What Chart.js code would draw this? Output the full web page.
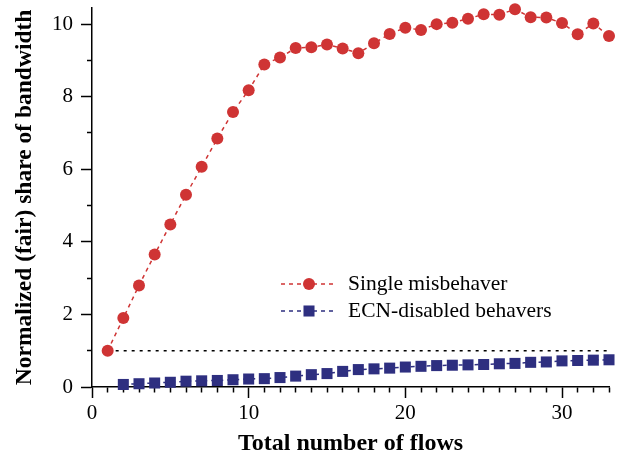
<!DOCTYPE html>
<html>
<head>
<meta charset="utf-8">
<script src="https://cdn.jsdelivr.net/npm/chart.js@4.4.1/dist/chart.umd.min.js"></script>
<style>
  html, body { margin: 0; padding: 0; background: #ffffff; }
  #wrap { width: 624px; height: 458px; }
</style>
</head>
<body>
<div id="wrap"><canvas id="share-chart"></canvas></div>
<script>
// values
const flows = [1, 2, 3, 4, 5, 6, 7, 8, 9, 10, 11, 12, 13, 14, 15, 16, 17,
  18, 19, 20, 21, 22, 23, 24, 25, 26, 27, 28, 29, 30, 31, 32, 33];
const misbehaver = [1.0, 1.9, 2.8, 3.65, 4.48, 5.3, 6.07, 6.85, 7.58, 8.18, 8.89,
  9.08, 9.34, 9.36, 9.44, 9.33, 9.2, 9.47, 9.73, 9.9, 9.84, 10.0, 10.04, 10.15,
  10.27, 10.26, 10.41, 10.19, 10.18, 10.03, 9.72, 10.02, 9.67];
const behaverFlows = flows.slice(1);
const behavers = [0.07, 0.09, 0.11, 0.13, 0.16, 0.17, 0.18, 0.2, 0.22, 0.23, 0.26,
  0.3, 0.34, 0.37, 0.43, 0.48, 0.5, 0.52, 0.55, 0.57, 0.59, 0.6, 0.61, 0.62, 0.64,
  0.65, 0.68, 0.69, 0.72, 0.73, 0.74, 0.75];
const fairFlows = [1, 33];
const fairShare = [1, 1];

const labelsMisbehaver = 'Single misbehaver';
const labelsBehavers = 'ECN-disabled behavers';

const RED = '#cf3434';
const BLUE = '#2e2f80';
const SERIF = '"Liberation Serif", "DejaVu Serif", serif';

Chart.defaults.font.family = SERIF;
Chart.defaults.color = '#000000';

function points(xs, ys) {
  return xs.map((x, i) => ({ x: x, y: ys[i] }));
}

// legend with line + marker sample, drawn like the original figure
const legendPlugin = {
  id: 'lineLegend',
  afterDraw(chart) {
    const ctx = chart.ctx;
    const entries = [0, 1];
    const rows = [284, 311];
    ctx.save();
    entries.forEach((idx, i) => {
      const ds = chart.data.datasets[idx];
      const y = rows[i];
      ctx.strokeStyle = ds.borderColor;
      ctx.lineWidth = ds.borderWidth;
      ctx.setLineDash(ds.borderDash);
      ctx.beginPath();
      ctx.moveTo(281, y);
      ctx.lineTo(336, y);
      ctx.stroke();
      ctx.setLineDash([]);
      ctx.fillStyle = ds.pointBackgroundColor;
      if (ds.pointStyle === 'rect') {
        const s = Math.SQRT1_2 * ds.pointRadius;
        ctx.fillRect(309 - s, y - s, 2 * s, 2 * s);
      } else {
        ctx.beginPath();
        ctx.arc(309, y, ds.pointRadius, 0, Math.PI * 2);
        ctx.fill();
      }
      ctx.fillStyle = '#000000';
      ctx.font = '21.5px ' + SERIF;
      ctx.textBaseline = 'middle';
      ctx.textAlign = 'left';
      ctx.fillText(ds.label, 348, y);
    });
    ctx.restore();
  }
};

// keep the plot box where the figure has it
function noLabelPadding(scale) {
  scale.paddingTop = 0;
  scale.paddingBottom = 0;
  scale.paddingLeft = 0;
  scale.paddingRight = 0;
}

new Chart(document.getElementById('share-chart'), {
  type: 'line',
  data: {
    datasets: [
      {
        label: labelsMisbehaver,
        data: points(flows, misbehaver),
        borderColor: RED,
        backgroundColor: RED,
        pointBackgroundColor: RED,
        pointBorderColor: RED,
        borderWidth: 1.5,
        borderDash: [4, 4],
        pointStyle: 'circle',
        pointRadius: 6,
        pointBorderWidth: 0,
        clip: false,
        order: 0
      },
      {
        label: labelsBehavers,
        data: points(behaverFlows, behavers),
        borderColor: BLUE,
        backgroundColor: BLUE,
        pointBackgroundColor: BLUE,
        pointBorderColor: BLUE,
        borderWidth: 1.5,
        borderDash: [4, 4],
        pointStyle: 'rect',
        pointRadius: 7.8,
        pointBorderWidth: 0,
        clip: false,
        order: 1
      },
      {
        label: 'fair share',
        data: points(fairFlows, fairShare),
        borderColor: '#000000',
        borderWidth: 1.5,
        borderDash: [3, 5],
        pointRadius: 0,
        order: 2
      }
    ]
  },
  options: {
    responsive: true,
    maintainAspectRatio: false,
    animation: false,
    layout: { padding: { left: 0, right: 15, top: 6, bottom: 0 } },
    plugins: {
      legend: { display: false },
      tooltip: { enabled: false }
    },
    scales: {
      x: {
        type: 'linear',
        min: 0,
        max: 33,
        afterFit(scale) { scale.height = 71; noLabelPadding(scale); },
        border: { color: '#000000', width: 1.5 },
        grid: {
          drawOnChartArea: false,
          tickLength: 11,
          tickColor: '#000000',
          tickWidth: 1.5,
          tickBorderDash: c => (c.tick && c.tick.value % 10 === 0) ? [] : [5, 20]
        },
        ticks: {
          stepSize: 1,
          autoSkip: false,
          maxRotation: 0,
          padding: 3,
          font: { size: 21 },
          color: '#000000',
          callback: v => (v % 10 === 0 ? v : '')
        },
        title: {
          display: true,
          text: 'Total number of flows',
          font: { size: 24, weight: 'bold' },
          color: '#000000',
          padding: { top: 0, bottom: 0 }
        }
      },
      y: {
        min: 0,
        max: 10.45,
        afterFit(scale) { scale.width = 92; noLabelPadding(scale); },
        border: { color: '#000000', width: 1.5 },
        grid: {
          drawOnChartArea: false,
          tickLength: 11,
          tickColor: '#000000',
          tickWidth: 1.5,
          // minor ticks: skip the outer part so the short mark touches the axis
          tickBorderDash: c => (c.tick && c.tick.value % 2 === 0) ? [] : [5, 6],
          tickBorderDashOffset: c => (c.tick && c.tick.value % 2 === 0) ? 0 : 5
        },
        ticks: {
          stepSize: 1,
          autoSkip: false,
          includeBounds: false,
          padding: 8,
          font: { size: 21 },
          color: '#000000',
          callback: v => (v % 2 === 0 ? v : '')
        },
        title: {
          display: true,
          text: 'Normalized (fair) share of bandwidth',
          font: { size: 23.5, weight: 'bold' },
          color: '#000000',
          padding: { top: 11, bottom: 0 }
        }
      }
    }
  },
  plugins: [legendPlugin]
});
</script>
</body>
</html>
